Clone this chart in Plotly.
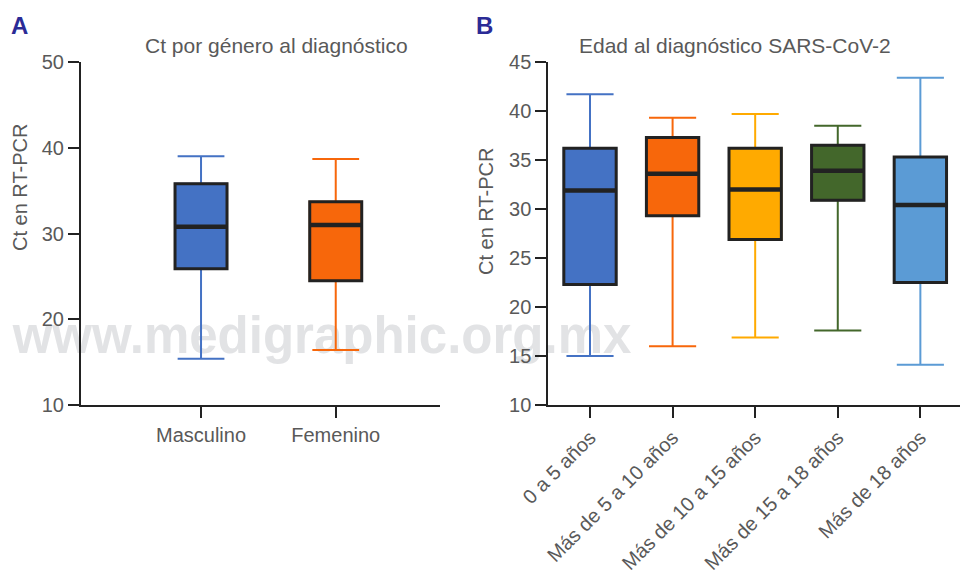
import plotly.graph_objects as go

# Panel A: Ct by sex
gender = ["Masculino", "Femenino"]
gender_low = [15.4, 16.4]
gender_q1 = [25.9, 24.5]
gender_med = [30.8, 31.0]
gender_q3 = [35.8, 33.7]
gender_high = [39.0, 38.7]
gender_colors = ["#4472C4", "#F7670B"]

# Panel B: Ct by age group
age_groups = ["0 a 5 años", "Más de 5 a 10 años", "Más de 10 a 15 años",
              "Más de 15 a 18 años", "Más de 18 años"]
age_low = [15.0, 16.0, 16.9, 17.6, 14.1]
age_q1 = [22.3, 29.3, 26.9, 30.9, 22.5]
age_med = [31.9, 33.6, 32.0, 33.9, 30.4]
age_q3 = [36.2, 37.3, 36.2, 36.5, 35.3]
age_high = [41.7, 39.3, 39.7, 38.5, 43.4]
age_colors = ["#4472C4", "#F7670B", "#FFAA00", "#43672B", "#5B9BD5"]

FONT = "Liberation Sans, Arial, Helvetica, sans-serif"
TEXT = "#595959"
INK = "#222222"

W, H = 960, 573

fig = go.Figure()

# Watermark lives on its own full-page subplot, drawn beneath the data panels
fig.add_trace(go.Scatter(
    x=[322], y=[H - 340], mode="text", text=["www.medigraphic.org.mx"],
    textfont=dict(family="Liberation Sans Narrow, Arial Narrow, Liberation Sans, Arial",
                  size=51, color="#E2E3E5", weight="bold"),
    cliponaxis=False,
    xaxis="x", yaxis="y", hoverinfo="skip", showlegend=False))


def add_boxes(lows, q1s, meds, q3s, highs, colors, width, xa, ya):
    for i, (lo, q1, md, q3, hi, c) in enumerate(zip(lows, q1s, meds, q3s, highs, colors)):
        # coloured whiskers and caps
        fig.add_trace(go.Box(
            x=[i], q1=[q1], median=[md], q3=[q3], lowerfence=[lo], upperfence=[hi],
            fillcolor=c, line=dict(color=c, width=2), whiskerwidth=0.9,
            width=width, xaxis=xa, yaxis=ya, hoverinfo="skip", showlegend=False))
        # dark box outline on top
        fig.add_trace(go.Box(
            x=[i], q1=[q1], median=[md], q3=[q3], lowerfence=[q1], upperfence=[q3],
            fillcolor=c, line=dict(color=INK, width=3), whiskerwidth=0,
            width=width, xaxis=xa, yaxis=ya, hoverinfo="skip", showlegend=False))
        # heavier median bar
        fig.add_trace(go.Scatter(
            x=[i - width / 2, i + width / 2], y=[md, md], mode="lines",
            line=dict(color=INK, width=4.5), xaxis=xa, yaxis=ya,
            hoverinfo="skip", showlegend=False))


add_boxes(gender_low, gender_q1, gender_med, gender_q3, gender_high,
          gender_colors, 0.386, "x2", "y2")
add_boxes(age_low, age_q1, age_med, age_q3, age_high,
          age_colors, 0.634, "x3", "y3")

axis_common = dict(showline=True, linecolor=INK, linewidth=2, ticks="outside",
                   ticklen=11, tickwidth=2, tickcolor=INK, showgrid=False,
                   zeroline=False, automargin=False,
                   tickfont=dict(family=FONT, size=20, color=TEXT))

y_dom = [1 - 405 / H, 1 - 62 / H]

fig.update_layout(
    width=W, height=H, margin=dict(l=0, r=0, t=0, b=0, pad=0, autoexpand=False),
    paper_bgcolor="white", plot_bgcolor="rgba(0,0,0,0)",
    boxmode="overlay", showlegend=False, hovermode=False,
    xaxis=dict(domain=[0, 1], range=[0, W], visible=False, fixedrange=True),
    yaxis=dict(domain=[0, 1], range=[0, H], visible=False, fixedrange=True),
    xaxis2=dict(domain=[81 / W, 440 / W], range=[-0.891, 1.774], anchor="y2",
                tickmode="array", tickvals=list(range(len(gender))), ticktext=gender,
                **axis_common),
    yaxis2=dict(domain=y_dom, range=[10, 50], anchor="x2", tickmode="linear",
                tick0=10, dtick=10, **axis_common),
    xaxis3=dict(domain=[548.3 / W, 1.0], range=[-0.505, 4.48], anchor="y3",
                tickmode="array", tickvals=list(range(len(age_groups))),
                ticktext=age_groups, tickangle=-45, **axis_common),
    yaxis3=dict(domain=y_dom, range=[10, 45], anchor="x3", tickmode="linear",
                tick0=10, dtick=5, **axis_common),
)

annotations = [
    dict(text="Ct por género al diagnóstico", x=276 / W, y=1 - 45 / H,
         font=dict(family=FONT, size=21, color=TEXT)),
    dict(text="Edad al diagnóstico SARS-CoV-2", x=735 / W, y=1 - 45 / H,
         font=dict(family=FONT, size=21, color=TEXT)),
    dict(text="Ct en RT-PCR", x=20 / W, y=1 - 188 / H, textangle=-90,
         font=dict(family=FONT, size=20, color=TEXT)),
    dict(text="Ct en RT-PCR", x=486 / W, y=1 - 212 / H, textangle=-90,
         font=dict(family=FONT, size=20, color=TEXT)),
    dict(text="<b>A</b>", x=19 / W, y=1 - 25 / H,
         font=dict(family=FONT, size=24, color="#2B2B96")),
    dict(text="<b>B</b>", x=484 / W, y=1 - 25 / H,
         font=dict(family=FONT, size=24, color="#2B2B96")),
]
for a in annotations:
    a.update(xref="paper", yref="paper", showarrow=False, xanchor="center", yanchor="middle")
fig.update_layout(annotations=annotations)

fig.write_html("out.html")
